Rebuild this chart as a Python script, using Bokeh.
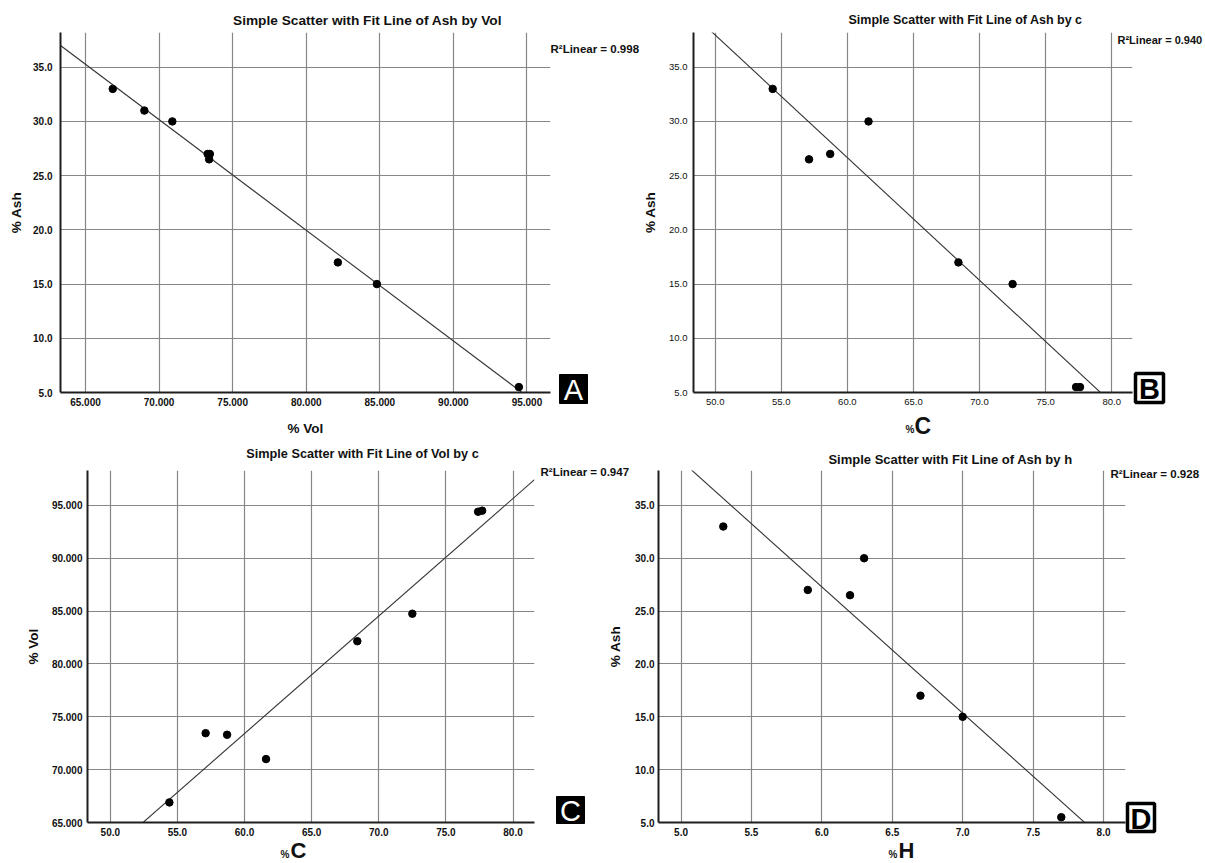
import numpy as np
from bokeh.plotting import figure
from bokeh.layouts import row, column
from bokeh.models import Label, FixedTicker, Range1d, BoxAnnotation
from bokeh.embed import file_html
from bokeh.resources import INLINE

# ---------------- data ----------------
# Panel A: Ash by Vol
vol_a = [66.85, 69.0, 70.9, 73.3, 73.45, 73.4, 82.15, 84.8, 94.45]
ash_a = [33.0, 31.0, 30.0, 27.0, 27.0, 26.5, 17.0, 15.0, 5.5]
# Panel B: Ash by C
c_b = [54.35, 57.1, 58.7, 61.6, 68.4, 72.5, 77.3, 77.6]
ash_b = [33.0, 26.5, 27.0, 30.0, 17.0, 15.0, 5.5, 5.5]
# Panel C: Vol by C
c_c = [54.4, 57.1, 58.7, 61.6, 68.4, 72.5, 77.4, 77.7]
vol_c = [66.9, 73.45, 73.3, 71.0, 82.15, 84.75, 94.4, 94.5]
# Panel D: Ash by H
h_d = [5.3, 5.9, 6.2, 6.3, 6.7, 7.0, 7.7]
ash_d = [33.0, 27.0, 26.5, 30.0, 17.0, 15.0, 5.5]

# tick values and labels
ticks_vol_x = [65, 70, 75, 80, 85, 90, 95]
labels_vol_x = ["65.000", "70.000", "75.000", "80.000", "85.000", "90.000", "95.000"]
ticks_ash = [5, 10, 15, 20, 25, 30, 35]
labels_ash = ["5.0", "10.0", "15.0", "20.0", "25.0", "30.0", "35.0"]
ticks_c = [50, 55, 60, 65, 70, 75, 80]
labels_c = ["50.0", "55.0", "60.0", "65.0", "70.0", "75.0", "80.0"]
ticks_vol_y = [65, 70, 75, 80, 85, 90, 95]
labels_vol_y = ["65.000", "70.000", "75.000", "80.000", "85.000", "90.000", "95.000"]
ticks_h = [5, 5.5, 6, 6.5, 7, 7.5, 8]
labels_h = ["5.0", "5.5", "6.0", "6.5", "7.0", "7.5", "8.0"]

titles = ["Simple Scatter with Fit Line of Ash by Vol",
          "Simple Scatter with Fit Line of Ash by c",
          "Simple Scatter with Fit Line of Vol by c",
          "Simple Scatter with Fit Line of Ash by h"]
r2_texts = ["R\u00b2Linear = 0.998", "R\u00b2Linear = 0.940",
            "R\u00b2Linear = 0.947", "R\u00b2Linear = 0.928"]
panel_letters = ["A", "B", "C", "D"]

FONT = "Liberation Sans"
GRID = "#868686"


def norm(t):
    return int(t) if float(t).is_integer() else t


def make_panel(x, y, xr, yr, xt, xl, yt, yl, W, H, borders, ylabel, xlabel,
               tick_size, tick_style, ystand, ylab_stand, xstand, xlab_stand):
    p = figure(width=W, height=H, x_range=Range1d(*xr), y_range=Range1d(*yr),
               output_backend="svg", toolbar_location=None,
               min_border_left=borders[0], min_border_right=borders[1],
               min_border_top=borders[2], min_border_bottom=borders[3])
    p.outline_line_color = None
    p.border_fill_color = None
    p.background_fill_color = None
    p.xaxis.ticker = FixedTicker(ticks=xt)
    p.yaxis.ticker = FixedTicker(ticks=yt)
    p.xaxis.major_label_overrides = {norm(t): s for t, s in zip(xt, xl)}
    p.yaxis.major_label_overrides = {norm(t): s for t, s in zip(yt, yl)}
    for ax in (p.xaxis[0], p.yaxis[0]):
        ax.axis_line_color = "#1e1e1e"
        ax.axis_line_width = 2
        ax.major_tick_line_color = None
        ax.minor_tick_line_color = None
        ax.major_tick_out = 0
        ax.major_tick_in = 0
        ax.major_label_text_font = FONT
        ax.major_label_text_font_size = tick_size
        ax.major_label_text_font_style = tick_style
        ax.major_label_text_color = "#111111"
        ax.axis_label_text_font = FONT
        ax.axis_label_text_font_size = "13.5px"
        ax.axis_label_text_font_style = "bold"
        ax.axis_label_text_color = "#111111"
    p.yaxis.major_label_standoff = ystand
    p.yaxis.axis_label_standoff = ylab_stand
    p.xaxis.major_label_standoff = xstand
    p.xaxis.axis_label_standoff = xlab_stand
    if ylabel:
        p.yaxis.axis_label = ylabel
    if xlabel:
        p.xaxis.axis_label = xlabel
    p.grid.grid_line_color = GRID
    p.grid.grid_line_width = 1.2

    slope, intercept = np.polyfit(x, y, 1)
    xs = [xr[0], xr[1]]
    ys = [slope * v + intercept for v in xs]
    p.line(xs, ys, line_color="#333333", line_width=1.1)
    p.scatter(x, y, size=7.5, fill_color="black", line_color="black")
    return p


# ---------------- Panels ----------------
pA = make_panel(vol_a, ash_a, (63.3, 96.6), (5.0, 38.2), ticks_vol_x, labels_vol_x,
                ticks_ash, labels_ash, 640, 442, (60, 90, 32, 49), "% Ash", "% Vol",
                "10px", "bold", 8, 6, 5, 12)
pB = make_panel(c_b, ash_b, (48.36, 81.57), (5.0, 38.2), ticks_c, labels_c,
                ticks_ash, labels_ash, 565, 442, (48, 73, 31, 50), "% Ash", None,
                "9.5px", "normal", 6, 8, 6, 0)
pC = make_panel(c_c, vol_c, (48.3, 81.6), (65.0, 98.3), ticks_c, labels_c,
                ticks_vol_y, labels_vol_y, 600, 421, (87, 66, 22, 36), "% Vol", None,
                "10px", "bold", 5, 8, 5, 0)
pD = make_panel(h_d, ash_d, (4.84, 8.156), (5.0, 38.3), ticks_h, labels_h,
                ticks_ash, labels_ash, 605, 421, (58, 80, 28, 41), "% Ash", None,
                "10px", "bold", 4, 9, 5, 0)

# ---------------- transparent overlay for texts outside the plot frames ----------------
ov = figure(width=1205, height=863, x_range=Range1d(0, 1205), y_range=Range1d(863, 0),
            x_axis_type=None, y_axis_type=None, output_backend="svg",
            toolbar_location=None, min_border=0)
ov.grid.visible = False
ov.outline_line_color = None
ov.border_fill_color = None
ov.background_fill_color = None
ov.styles = {"margin-top": "-863px", "position": "relative", "z-index": "5",
             "pointer-events": "none"}


def add_text(text, x, y, size, style="bold", align="left", color="#111111"):
    ov.add_layout(Label(x=x, y=y, text=text, text_font=FONT, text_font_size=size,
                        text_font_style=style, text_align=align,
                        text_baseline="middle", text_color=color))


def add_letter(letter, left, right, top, bottom, dark):
    ov.add_layout(BoxAnnotation(left=left, right=right, top=top, bottom=bottom,
                                fill_color="black" if dark else "white", fill_alpha=1,
                                line_color="black", line_alpha=1,
                                line_width=1 if dark else 3.5))
    add_text(letter, (left + right) / 2, (top + bottom) / 2 + 1, "29px",
             style="normal" if dark else "bold", align="center",
             color="white" if dark else "black")


# Panel A texts
add_text(titles[0], 367, 20, "13.7px", align="center")
add_text(r2_texts[0], 550, 48, "11.5px")
add_letter(panel_letters[0], 559, 587, 374, 403, True)
# Panel B texts
add_text(titles[1], 965, 19, "12.5px", align="center")
add_text(r2_texts[1], 1117, 39, "11px")
add_letter(panel_letters[1], 1135, 1163, 373, 402, False)
add_text("%", 905, 429, "10px")
add_text("C", 914, 425, "23px")
# Panel C texts
add_text(titles[2], 362, 453, "12.7px", align="center")
add_text(r2_texts[2], 540, 471, "11.5px")
add_letter(panel_letters[2], 556, 584, 796, 823, True)
add_text("%", 280, 854, "10px")
add_text("C", 290, 850, "22px")
# Panel D texts
add_text(titles[3], 950, 459, "13px", align="center")
add_text(r2_texts[3], 1110, 473, "11.5px")
add_letter(panel_letters[3], 1127, 1154, 803, 831, False)
add_text("%", 888, 854, "10px")
add_text("H", 898, 850, "22px")

layout = column(row(pA, pB), row(pC, pD), ov)

open("out.html", "w").write(file_html(layout, INLINE))
